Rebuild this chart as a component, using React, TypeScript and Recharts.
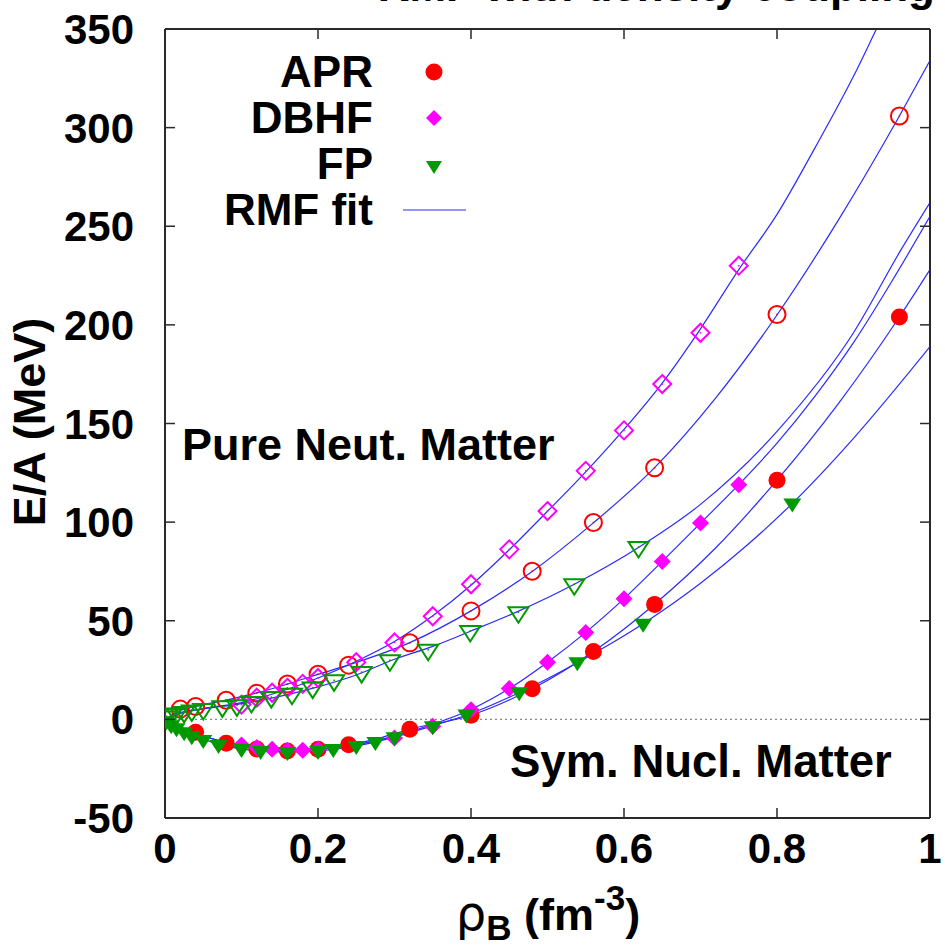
import React from 'react'
import { ComposedChart, Line, Scatter, XAxis, YAxis, ReferenceLine } from 'recharts'

// axis ticks
const xTicks = [0, 0.2, 0.4, 0.6, 0.8, 1]
const yTicks = [-50, 0, 50, 100, 150, 200, 250, 300, 350]

// data points: [density fm^-3, E/A MeV]
const aprSnm = [[0.04, -6.5], [0.08, -12.1], [0.12, -15], [0.16, -16], [0.2, -15.1], [0.24, -12.9], [0.32, -5], [0.4, 2.1], [0.48, 15.5], [0.56, 34.4], [0.64, 58.3], [0.8, 121.2], [0.96, 204]]
const aprPnm = [[0.02, 5.2], [0.04, 6.5], [0.08, 9.7], [0.12, 13.3], [0.16, 17.9], [0.2, 22.9], [0.24, 27.5], [0.32, 38.8], [0.4, 55], [0.48, 75.1], [0.56, 99.8], [0.64, 127.6], [0.8, 205.3], [0.96, 305.9]]
const dbhfSnm = [[0.1, -13], [0.12, -14.3], [0.14, -15.2], [0.16, -15.6], [0.18, -15.6], [0.2, -15.2], [0.3, -9.5], [0.35, -3.5], [0.4, 4.9], [0.45, 15.6], [0.5, 29], [0.55, 44.1], [0.6, 61.2], [0.65, 80.1], [0.7, 99.5], [0.75, 119]]
const dbhfPnm = [[0.1, 7.5], [0.12, 11], [0.14, 13.5], [0.16, 16], [0.18, 18], [0.2, 21], [0.25, 29], [0.3, 39], [0.35, 52.3], [0.4, 68.5], [0.45, 86.2], [0.5, 105.6], [0.55, 126], [0.6, 146.5], [0.65, 170], [0.7, 196], [0.75, 230]]
const fpSnm = [[0.002, -1], [0.008, -3], [0.015, -4.5], [0.025, -6.5], [0.035, -8.5], [0.05, -10.5], [0.07, -13], [0.1, -15], [0.125, -16], [0.16, -16.5], [0.2, -16], [0.22, -15], [0.25, -13.5], [0.275, -11.5], [0.3, -9], [0.35, -3.5], [0.394, 2.5], [0.463, 13.8], [0.539, 29], [0.625, 48.5], [0.82, 109.5]]
const fpPnm = [[0.002, 1.5], [0.008, 2.5], [0.015, 3], [0.025, 3.8], [0.035, 4.5], [0.05, 5.3], [0.075, 6.6], [0.094, 7.1], [0.113, 8.8], [0.139, 11.3], [0.166, 13], [0.193, 16.1], [0.221, 19.8], [0.257, 24], [0.294, 30], [0.344, 35.3], [0.399, 44.8], [0.462, 54.3], [0.535, 68.5], [0.619, 87.4]]

// RMF fit curves
const fitPnmDbhf = [[0, 0], [0.02, 3], [0.05, 5.5], [0.1, 8.5], [0.15, 14], [0.2, 21], [0.25, 29.5], [0.3, 39.5], [0.35, 52.5], [0.4, 68], [0.45, 86], [0.5, 105.5], [0.55, 125.5], [0.6, 147], [0.65, 170.5], [0.7, 198], [0.75, 228], [0.8, 256], [0.85, 290], [0.9, 326], [0.93, 350], [0.96, 374]]
const fitPnmApr = [[0, 0], [0.02, 4.5], [0.04, 6.6], [0.08, 9.8], [0.12, 13.4], [0.16, 17.9], [0.2, 22.8], [0.24, 27.6], [0.32, 38.9], [0.4, 55], [0.48, 75], [0.56, 99.6], [0.64, 127.6], [0.72, 163], [0.8, 205], [0.88, 253], [0.96, 305.9], [1, 334]]
const fitPnmFp = [[0, 0], [0.02, 3.5], [0.05, 5.3], [0.1, 8], [0.15, 11.7], [0.2, 16.5], [0.25, 22.5], [0.3, 30.5], [0.35, 37], [0.4, 44.8], [0.46, 54.5], [0.535, 68.5], [0.62, 87.4], [0.7, 109], [0.8, 146], [0.9, 196], [0.962, 238], [1, 262]]
const fitSnmApr = [[0, 0], [0.02, -3.8], [0.04, -6.8], [0.08, -12], [0.12, -15], [0.16, -16], [0.2, -15.2], [0.24, -13], [0.28, -9.5], [0.32, -5], [0.4, 2.1], [0.48, 15.5], [0.56, 34.4], [0.64, 58.4], [0.72, 87], [0.8, 121.3], [0.88, 160], [0.96, 204], [1, 228]]
const fitSnmDbhf = [[0, 0], [0.02, -4], [0.05, -8.5], [0.1, -13], [0.15, -15.3], [0.2, -15], [0.25, -12.8], [0.3, -8.5], [0.35, -2.5], [0.4, 5], [0.45, 15.6], [0.5, 29], [0.55, 44.1], [0.6, 61.2], [0.65, 80.1], [0.7, 99.5], [0.75, 119], [0.8, 140], [0.85, 164], [0.9, 191], [0.95, 222], [1, 255]]
const fitSnmFp = [[0, 0], [0.02, -5], [0.05, -10], [0.1, -15], [0.15, -16.5], [0.2, -16], [0.25, -13.5], [0.3, -9], [0.35, -3.2], [0.4, 3], [0.46, 13], [0.54, 29], [0.625, 48.5], [0.7, 69], [0.76, 88], [0.82, 109.5], [0.9, 142.5], [1, 189]]

const RED = '#ff0000'
const MAGENTA = '#ff00ff'
const GREEN = '#009a00'
const BLUE = '#2a2aff'
const AXIS = '#2a2a2a'
const FONT = '"Liberation Sans", Arial, Helvetica, sans-serif'

const toPts = (arr: number[][]) => arr.map(([x, y]) => ({ x, y }))

type Kind = 'circle' | 'diamond' | 'triangle'

function drawMarker(kind: Kind, color: string, filled: boolean, cx: number, cy: number) {
  const fill = filled ? color : 'none'
  const sw = filled ? 0 : 2
  let shape
  if (kind === 'circle') {
    shape = <circle cx={cx} cy={cy} r={8.5} fill={fill} stroke={color} strokeWidth={sw} />
  } else if (kind === 'diamond') {
    const h = filled ? 8.5 : 9
    shape = <polygon points={`${cx},${cy - h} ${cx + h},${cy} ${cx},${cy + h} ${cx - h},${cy}`} fill={fill} stroke={color} strokeWidth={sw} />
  } else {
    const w = filled ? 9 : 10
    shape = <polygon points={`${cx - w},${cy - 5} ${cx + w},${cy - 5} ${cx},${cy + (filled ? 9 : 10.5)}`} fill={fill} stroke={color} strokeWidth={sw} strokeLinejoin="miter" />
  }
  return (
    <g>
      {shape}
      {!filled && <rect x={cx - 0.75} y={cy - 0.75} width={1.5} height={1.5} fill={color} />}
    </g>
  )
}

const marker = (kind: Kind, color: string, filled: boolean) => (props: any) => {
  const { cx, cy } = props
  if (cx == null || cy == null) return <g />
  return drawMarker(kind, color, filled, cx, cy)
}

const BottomTick = (props: any) => {
  const { x, y, payload } = props
  return (
    <g>
      <line x1={x} x2={x} y1={y} y2={y - 10} stroke={AXIS} strokeWidth={1.5} />
      <text x={x} y={y + 45} textAnchor="middle" fontFamily={FONT} fontWeight="bold" fontSize={42} fill="#000">
        {payload.value}
      </text>
    </g>
  )
}

const TopTick = (props: any) => {
  const { x, y } = props
  return <line x1={x} x2={x} y1={y} y2={y + 10} stroke={AXIS} strokeWidth={1.5} />
}

const LeftTick = (props: any) => {
  const { x, y, payload } = props
  return (
    <g>
      <line x1={x} x2={x + 10} y1={y} y2={y} stroke={AXIS} strokeWidth={1.5} />
      <text x={x - 31} y={y + 15} textAnchor="end" fontFamily={FONT} fontWeight="bold" fontSize={42} fill="#000">
        {payload.value}
      </text>
    </g>
  )
}

const RightTick = (props: any) => {
  const { x, y } = props
  return <line x1={x} x2={x - 10} y1={y} y2={y} stroke={AXIS} strokeWidth={1.5} />
}

const fits = [fitPnmDbhf, fitPnmApr, fitPnmFp, fitSnmApr, fitSnmDbhf, fitSnmFp]

const series: { data: number[][]; kind: Kind; color: string; filled: boolean }[] = [
  { data: aprPnm, kind: 'circle', color: RED, filled: false },
  { data: dbhfPnm, kind: 'diamond', color: MAGENTA, filled: false },
  { data: fpPnm, kind: 'triangle', color: GREEN, filled: false },
  { data: aprSnm, kind: 'circle', color: RED, filled: true },
  { data: dbhfSnm, kind: 'diamond', color: MAGENTA, filled: true },
  { data: fpSnm, kind: 'triangle', color: GREEN, filled: true },
]

const txt = { fontFamily: FONT, fontWeight: 'bold' as const, fontSize: 44, fill: '#000' }

export default function App() {
  const axisLine = { stroke: AXIS, strokeWidth: 2 }
  return (
    <div style={{ position: 'absolute', left: 0, top: 0, width: 945, height: 947, background: '#fff' }}>
      <ComposedChart width={945} height={947} margin={{ top: 28, right: 14, bottom: 128, left: 164 }}>
        <XAxis xAxisId="b" type="number" dataKey="x" domain={[0, 1]} ticks={xTicks} orientation="bottom" height={1}
          tickSize={0} tickMargin={0} tickLine={false} axisLine={axisLine} tick={<BottomTick />} allowDataOverflow />
        <XAxis xAxisId="t" type="number" dataKey="x" domain={[0, 1]} ticks={xTicks} orientation="top" height={1}
          tickSize={0} tickMargin={0} tickLine={false} axisLine={axisLine} tick={<TopTick />} allowDataOverflow />
        <YAxis yAxisId="l" type="number" dataKey="y" domain={[-50, 350]} ticks={yTicks} width={1}
          tickSize={0} tickMargin={0} tickLine={false} axisLine={axisLine} tick={<LeftTick />} allowDataOverflow />
        <YAxis yAxisId="r" orientation="right" type="number" dataKey="y" domain={[-50, 350]} ticks={yTicks} width={1}
          tickSize={0} tickMargin={0} tickLine={false} axisLine={axisLine} tick={<RightTick />} allowDataOverflow />
        <ReferenceLine xAxisId="b" yAxisId="l" y={0} stroke="#8a8a8a" strokeWidth={1.2} strokeDasharray="2 3" />
        {fits.map((f, i) => (
          <Line key={'fit' + i} data={toPts(f)} dataKey="y" xAxisId="b" yAxisId="l" type="monotone"
            stroke={BLUE} strokeWidth={1.2} dot={false} activeDot={false} isAnimationActive={false} />
        ))}
        {series.map((s, i) => (
          <Scatter key={'s' + i} data={toPts(s.data)} dataKey="y" xAxisId="b" yAxisId="l"
            shape={marker(s.kind, s.color, s.filled)} isAnimationActive={false} />
        ))}
        <Scatter data={[]} dataKey="y" xAxisId="t" yAxisId="r" isAnimationActive={false} />
      </ComposedChart>
      <svg width={945} height={947} style={{ position: 'absolute', left: 0, top: 0, pointerEvents: 'none' }}>
        <text x={935} y={1} textAnchor="end" {...txt}>RMF with density coupling</text>
        <text x={373} y={87} textAnchor="end" {...txt}>APR</text>
        <text x={373} y={133} textAnchor="end" {...txt}>DBHF</text>
        <text x={373} y={179} textAnchor="end" {...txt}>FP</text>
        <text x={373} y={225} textAnchor="end" {...txt}>RMF fit</text>
        {drawMarker('circle', RED, true, 434, 72)}
        <polygon points="434,110 442,118 434,126 426,118" fill={MAGENTA} />
        <polygon points="426,161 442,161 434,174" fill={GREEN} />
        <line x1={403} x2={466} y1={210} y2={210} stroke={BLUE} strokeWidth={1.2} />
        <text x={182} y={460} {...txt} fontSize={45}>Pure Neut. Matter</text>
        <text x={510} y={777} {...txt} fontSize={45.5}>Sym. Nucl. Matter</text>
        <text x={45} y={422} transform="rotate(-90 45 422)" textAnchor="middle" {...txt} fontSize={45}>E/A (MeV)</text>
        <text x={548} y={930} textAnchor="middle" {...txt} fontSize={45}>
          <tspan fontWeight="normal" fontFamily="DejaVu Sans, sans-serif" fontSize={48}>ρ</tspan>
          <tspan fontSize={35} dy={10}>B</tspan>
          <tspan dy={-10}> (fm</tspan>
          <tspan fontSize={35} dy={-20}>-3</tspan>
          <tspan dy={20}>)</tspan>
        </text>
      </svg>
    </div>
  )
}
